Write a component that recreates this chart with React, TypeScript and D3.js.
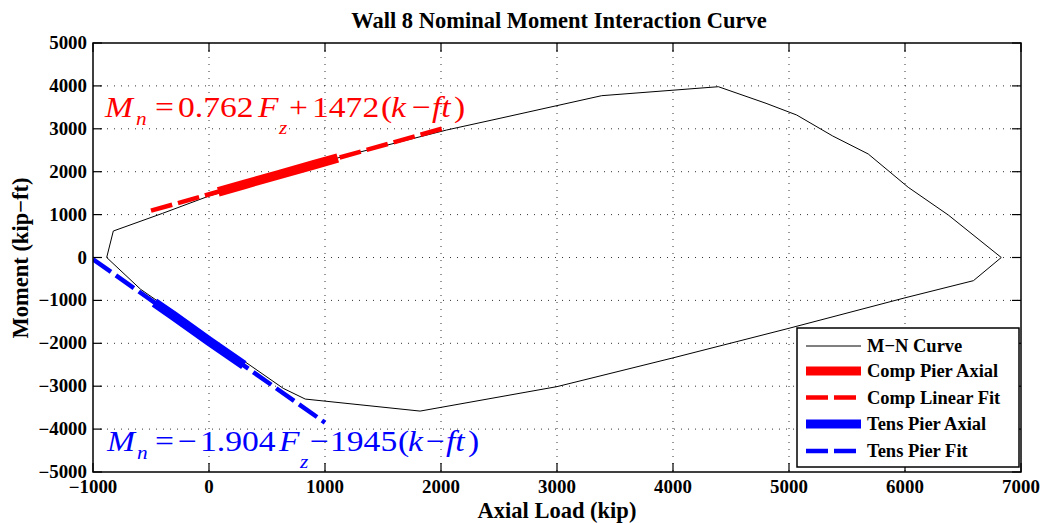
import React from "react";
import * as d3 from "d3";

// ---------- data ----------
const xTicks = [-1000, 0, 1000, 2000, 3000, 4000, 5000, 6000, 7000];
const yTicks = [-5000, -4000, -3000, -2000, -1000, 0, 1000, 2000, 3000, 4000, 5000];

// M-N interaction curve (closed loop)
const curveAxial = [
  -882, -825, -400, 0, 600, 1200, 2049, 2509, 3385, 4391, 4802, 5066, 5377, 5683, 6028, 6373, 6830,
  6590, 6000, 5000, 4000, 3000, 1820, 830, 640, -590, -882,
];
const curveMoment = [
  0, 617, 1030, 1433, 1930, 2389, 2972, 3245, 3772, 3981, 3594, 3322, 2832, 2413, 1636, 991, 0,
  -540, -940, -1650, -2340, -3010, -3580, -3300, -3050, -740, 0,
];

const compAxial = [80, 300, 600, 900, 1110];
const compMoment = [1530, 1700, 1930, 2160, 2320];

const compFitAxial = [-500, 2050];
const compFitMoment = [1091, 3034];

const tensAxial = [-470, -300, 0, 300];
const tensMoment = [-1050, -1370, -1950, -2510];

const tensFitAxial = [-1000, 1000];
const tensFitMoment = [-41, -3849];

const legendLabels = ["M\u2212N Curve", "Comp Pier Axial", "Comp Linear Fit", "Tens Pier Axial", "Tens Pier Fit"];

// ---------- layout ----------
const W = 1054;
const H = 523;
const L = 93, R = 1021, T = 43, B = 472;
const SERIF = "'Liberation Serif', 'Times New Roman', Times, serif";

const x = d3.scaleLinear().domain([-1000, 7000]).range([L, R]);
const y = d3.scaleLinear().domain([-5000, 5000]).range([B, T]);

const zip = (a: number[], b: number[]) => a.map((v, i) => [v, b[i]] as [number, number]);
const line = d3.line<[number, number]>().x((d) => x(d[0])).y((d) => y(d[1]));

type Piece = { t: string; x: number; it?: boolean; sub?: number };

const redEq: Piece[] = [
  { t: "M", x: 105, it: true },
  { t: "n", x: 136, it: true, sub: 8.4 },
  { t: "=", x: 155 },
  { t: "0.762", x: 178 },
  { t: "F", x: 258, it: true },
  { t: "z", x: 279, it: true, sub: 17 },
  { t: "+", x: 289 },
  { t: "1472", x: 312 },
  { t: "(", x: 381 },
  { t: "k", x: 391, it: true },
  { t: "\u2212", x: 412 },
  { t: "ft", x: 432, it: true },
  { t: ")", x: 454 },
];
const blueEq: Piece[] = [
  { t: "M", x: 107, it: true },
  { t: "n", x: 137, it: true, sub: 8.4 },
  { t: "=", x: 155 },
  { t: "\u2212", x: 178 },
  { t: "1.904", x: 200 },
  { t: "F", x: 279, it: true },
  { t: "z", x: 300, it: true, sub: 17 },
  { t: "\u2212", x: 310 },
  { t: "1945", x: 330 },
  { t: "(", x: 398 },
  { t: "k", x: 408, it: true },
  { t: "\u2212", x: 426 },
  { t: "ft", x: 446, it: true },
  { t: ")", x: 468 },
];

const SX = 1.12;

function Equation({ pieces, baseline, color }: { pieces: Piece[]; baseline: number; color: string }) {
  return (
    <g fill={color} fontFamily={SERIF}>
      {pieces.map((p, i) => (
        <text
          key={i}
          transform={`translate(${p.x},${baseline + (p.sub || 0)}) scale(${SX},1)`}
          fontSize={p.sub ? 19 : 30}
          fontStyle={p.it ? "italic" : "normal"}
        >
          {p.t}
        </text>
      ))}
    </g>
  );
}

export default function App() {
  const gridX = xTicks.slice(1, -1);
  const gridY = yTicks.slice(1, -1);
  const legRows = [346, 371, 397.5, 424, 451];
  const legendStyles = [
    { color: "#000", w: 1, dash: undefined as string | undefined },
    { color: "#ff0000", w: 9, dash: undefined },
    { color: "#ff0000", w: 4.5, dash: "22,6" },
    { color: "#0000ff", w: 9, dash: undefined },
    { color: "#0000ff", w: 4.5, dash: "22,6" },
  ];
  return (
    <svg
      width={W}
      height={H}
      style={{ position: "absolute", left: 0, top: 0, background: "#fff" }}
      xmlns="http://www.w3.org/2000/svg"
    >
      <rect x={0} y={0} width={W} height={H} fill="#fff" />
      <defs>
        <clipPath id="plotclip">
          <rect x={L} y={T} width={R - L} height={B - T} />
        </clipPath>
      </defs>
      {/* grid */}
      <g stroke="#333" strokeWidth={1} strokeDasharray="1,6">
        {gridX.map((v) => (
          <line key={"gx" + v} x1={x(v)} x2={x(v)} y1={T} y2={B} />
        ))}
        {gridY.map((v) => (
          <line key={"gy" + v} x1={L} x2={R} y1={y(v)} y2={y(v)} />
        ))}
      </g>
      <g clipPath="url(#plotclip)" fill="none">
        <path d={line(zip(curveAxial, curveMoment)) || ""} stroke="#000" strokeWidth={1} />
        <path d={line(zip(compAxial, compMoment)) || ""} stroke="#ff0000" strokeWidth={9.5} />
        <path d={line(zip(compFitAxial, compFitMoment)) || ""} stroke="#ff0000" strokeWidth={4.5} strokeDasharray="22,6" />
        <path d={line(zip(tensAxial, tensMoment)) || ""} stroke="#0000ff" strokeWidth={9.5} />
        <path d={line(zip(tensFitAxial, tensFitMoment)) || ""} stroke="#0000ff" strokeWidth={4.5} strokeDasharray="22,6" />
      </g>
      {/* frame + ticks */}
      <rect x={L} y={T} width={R - L} height={B - T} fill="none" stroke="#000" strokeWidth={1.5} />
      <g stroke="#000" strokeWidth={1.2}>
        {xTicks.map((v) => (
          <g key={"tx" + v}>
            <line x1={x(v)} x2={x(v)} y1={B} y2={B - 9} />
            <line x1={x(v)} x2={x(v)} y1={T} y2={T + 9} />
          </g>
        ))}
        {yTicks.map((v) => (
          <g key={"ty" + v}>
            <line x1={L} x2={L + 9} y1={y(v)} y2={y(v)} />
            <line x1={R} x2={R - 9} y1={y(v)} y2={y(v)} />
          </g>
        ))}
      </g>
      {/* tick labels */}
      <g fontFamily={SERIF} fontWeight="bold" fontSize={18} fill="#000">
        {xTicks.map((v) => (
          <text key={"lx" + v} transform={`translate(${x(v)},493) scale(1.05,1)`} textAnchor="middle">
            {v < 0 ? "\u2212" + Math.abs(v) : String(v)}
          </text>
        ))}
        {yTicks.map((v) => (
          <text key={"ly" + v} transform={`translate(87,${y(v) + 6}) scale(1.05,1)`} textAnchor="end">
            {v < 0 ? "\u2212" + Math.abs(v) : String(v)}
          </text>
        ))}
      </g>
      {/* title and axis labels */}
      <text x={559} y={28} textAnchor="middle" fontFamily={SERIF} fontWeight="bold" fontSize={22.5}>
        Wall 8 Nominal Moment Interaction Curve
      </text>
      <text x={557} y={518} textAnchor="middle" fontFamily={SERIF} fontWeight="bold" fontSize={22.5}>
        Axial Load (kip)
      </text>
      <text
        transform="translate(28,258) rotate(-90)"
        textAnchor="middle"
        fontFamily={SERIF}
        fontWeight="bold"
        fontSize={22.5}
      >
        Moment (kip{"\u2212"}ft)
      </text>
      {/* legend */}
      <rect x={797} y={328} width={222} height={139} fill="#fff" stroke="#000" strokeWidth={1.5} />
      {legendLabels.map((lab, i) => (
        <g key={lab}>
          <line
            x1={806}
            x2={861}
            y1={legRows[i]}
            y2={legRows[i]}
            stroke={legendStyles[i].color}
            strokeWidth={legendStyles[i].w}
            strokeDasharray={legendStyles[i].dash}
          />
          <text x={867} y={legRows[i] + 6} fontFamily={SERIF} fontWeight="bold" fontSize={18.5}>
            {lab}
          </text>
        </g>
      ))}
      {/* equations */}
      <Equation pieces={redEq} baseline={116.5} color="#ff0000" />
      <Equation pieces={blueEq} baseline={450.5} color="#0000ff" />
    </svg>
  );
}
